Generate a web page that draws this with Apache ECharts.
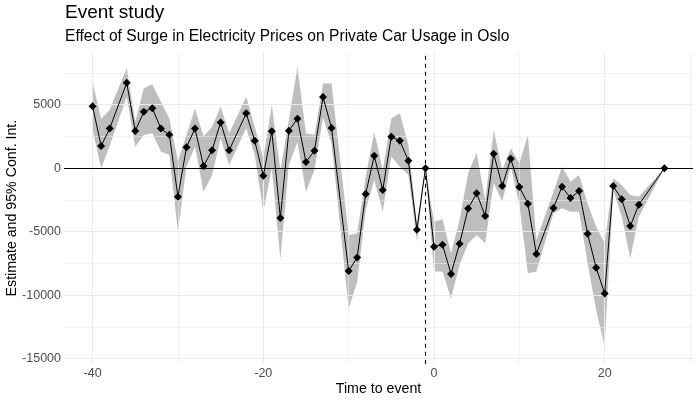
<!DOCTYPE html>
<html>
<head>
<meta charset="utf-8">
<script src="https://cdn.jsdelivr.net/npm/echarts@6/dist/echarts.min.js"></script>
<style>html,body{margin:0;padding:0;background:#fff}#c{width:700px;height:400px}</style>
</head>
<body>
<div id="c"></div>
<script>
const times = [-40,-39,-38,-36,-35,-34,-33,-32,-31,-30,-29,-28,-27,-26,-25,-24,-22,-21,-20,-19,-18,-17,-16,-15,-14,-13,-12,-10,-9,-8,-7,-6,-5,-4,-3,-2,-1,0,1,2,3,4,5,6,7,8,9,10,11,12,14,15,16,17,18,19,20,21,22,23,24,27];
const estimate = [4880,1750,3120,6730,2930,4440,4730,3120,2630,-2250,1660,3120,170,1410,3610,1410,4320,2160,-590,2910,-3910,2950,3900,490,1380,5600,3170,-8100,-7030,-2030,980,-1710,2480,2160,590,-4840,0,-6180,-6020,-8320,-5940,-3180,-1970,-3760,1140,-1400,750,-1480,-2790,-6750,-3130,-1460,-2350,-1790,-5160,-7830,-9860,-1400,-2450,-4550,-2870,0];
const upper = [6760,3900,4590,7900,3660,6290,6610,5240,3920,520,2610,4710,2490,3270,4840,2750,5630,3270,780,4980,-140,3790,7990,2750,2610,6680,6680,-5270,-5130,-670,2880,-140,3920,4320,1820,-4340,0,-4210,-4020,-6700,-4070,-400,1220,-2500,3000,-140,1570,390,2610,-5650,-1850,120,-1060,-540,-2770,-4600,-5910,-790,-1320,-2110,-2240,0];
const lower = [3020,0,1750,5630,1700,2610,2750,1310,1040,-5000,120,1700,-1850,-540,2350,250,3140,1040,-3420,0,-7150,250,2050,-1850,-140,4000,1950,-11030,-8980,-3290,-930,-3420,910,120,-540,-5780,0,-8140,-8140,-10240,-7620,-5910,-5250,-5910,-1190,-2630,120,-2830,-8270,-8140,-3560,-3160,-3420,-3420,-7490,-11160,-14050,-1710,-3820,-7090,-3820,0];
const xMajor = [-40,-20,0,20];
const xMinor = [-30,-10,10,30];
const yMajor = [-15000,-10000,-5000,0,5000];
const yMinor = [-12500,-7500,-2500,2500,7500];
const refTime = -1;

const chart = echarts.init(document.getElementById('c'), null, {renderer:'canvas'});
const F = '"Liberation Sans", Arial, sans-serif';
const grid = '#ebebeb';
const gl = (axis, vals, w) => vals.map(v => ({[axis]: v, lineStyle:{color:grid, width:w, type:'solid'}}));

chart.setOption({
  animation:false,
  backgroundColor:'#fff',
  textStyle:{fontFamily:F},
  title:[
    {text:'Event study', left:65, top:3, padding:0, textStyle:{fontFamily:F, fontSize:19, fontWeight:'normal', color:'#000'}},
    {text:'Effect of Surge in Electricity Prices on Private Car Usage in Oslo', left:65, top:29, padding:0, textStyle:{fontFamily:F, fontSize:15.6, fontWeight:'normal', color:'#000'}}
  ],
  grid:{left:64, right:7, top:52.4, bottom:36.2, containLabel:false, outerBoundsMode:'none'},
  xAxis:{type:'value', min:-43.35, max:30.35,
    name:'Time to event', nameLocation:'middle', nameGap:18.5, nameMoveOverlap:false,
    nameTextStyle:{fontFamily:F, fontSize:14.2, color:'#000'},
    axisLine:{show:false}, axisTick:{show:false}, splitLine:{show:false},
    axisLabel:{customValues:xMajor, color:'#4d4d4d', fontSize:12.5, fontFamily:F, margin:3, formatter:v=>String(v)}},
  yAxis:{type:'value', min:-15400, max:9120,
    name:'Estimate and 95% Conf. Int.', nameLocation:'middle', nameGap:45, nameRotate:90, nameMoveOverlap:false,
    nameTextStyle:{fontFamily:F, fontSize:14.2, color:'#000'},
    axisLine:{show:false}, axisTick:{show:false}, splitLine:{show:false},
    axisLabel:{customValues:yMajor, color:'#4d4d4d', fontSize:12.5, fontFamily:F, margin:3, formatter:v=>String(v)}},
  series:[
    {type:'line', data:[], silent:true, z:0,
      markLine:{silent:true, symbol:'none', label:{show:false}, animation:false,
        data: gl('xAxis', xMinor, 0.6).concat(gl('yAxis', yMinor, 0.6), gl('xAxis', xMajor, 1.1), gl('yAxis', yMajor, 1.1))}},
    {type:'custom', name:'ci', silent:true, z:1, clip:true,
      data:[[0]],
      renderItem:function(params, api){
        const pts = [];
        for (let i=0;i<times.length;i++) pts.push(api.coord([times[i], upper[i]]));
        for (let i=times.length-1;i>=0;i--) pts.push(api.coord([times[i], lower[i]]));
        return {type:'polygon', shape:{points:pts}, style:{fill:'#bebebe', stroke:null}};
      }},
    {type:'line', name:'estimate', symbol:'diamond', symbolSize:8, z:5,
      itemStyle:{color:'#000'}, lineStyle:{color:'#000', width:1},
      data: times.map((t,i)=>[t, estimate[i]]),
      markLine:{silent:true, symbol:'none', label:{show:false}, animation:false,
        data:[
          {yAxis:0, lineStyle:{color:'#000', width:1.1, type:'solid'}},
          {xAxis:refTime, lineStyle:{color:'#000', width:1.1, type:[4,4]}}
        ]}}
  ]
});
</script>
</body>
</html>
